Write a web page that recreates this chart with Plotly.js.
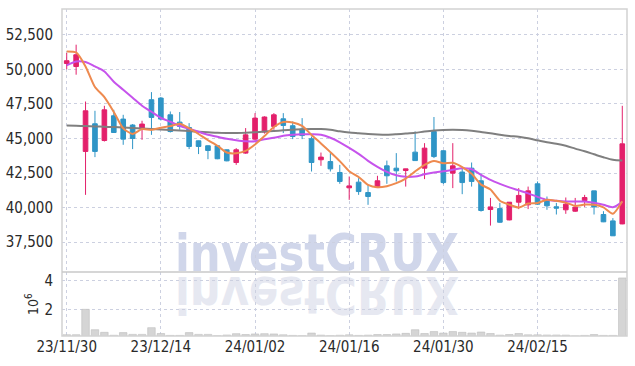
<!DOCTYPE html>
<html>
<head>
<meta charset="utf-8">
<script src="https://cdn.plot.ly/plotly-3.0.1.min.js"></script>
<style>
html,body{margin:0;padding:0;background:#fff;}
#wrap{position:relative;width:635px;height:366px;}
#wm{position:absolute;left:0;top:0;z-index:0;}
#chart{position:absolute;left:0;top:0;width:635px;height:366px;z-index:1;}
</style>
</head>
<body>
<div id="wrap">
<svg id="wm" width="635" height="366">
  <text x="175" y="271" font-family="DejaVu Sans Condensed, DejaVu Sans, sans-serif" font-weight="bold" font-size="52" fill="#d0d6ea" textLength="284" lengthAdjust="spacingAndGlyphs">investCRUX</text>
  <text x="175" y="271" transform="translate(0,548) scale(1,-1)" font-family="DejaVu Sans Condensed, DejaVu Sans, sans-serif" font-weight="bold" font-size="52" fill="#e6e8f1" textLength="284" lengthAdjust="spacingAndGlyphs">investCRUX</text>
</svg>
<div id="chart"></div>
</div>
<script>
const dates = [
 '2023-11-30','2023-12-01','2023-12-04','2023-12-05','2023-12-06','2023-12-07','2023-12-08','2023-12-11','2023-12-12','2023-12-13',
 '2023-12-14','2023-12-15','2023-12-18','2023-12-19','2023-12-20','2023-12-21','2023-12-22','2023-12-26','2023-12-27','2023-12-28',
 '2024-01-02','2024-01-03','2024-01-04','2024-01-05','2024-01-08','2024-01-09','2024-01-10','2024-01-11','2024-01-12','2024-01-15',
 '2024-01-16','2024-01-17','2024-01-18','2024-01-19','2024-01-22','2024-01-23','2024-01-24','2024-01-25','2024-01-26','2024-01-29',
 '2024-01-30','2024-01-31','2024-02-01','2024-02-02','2024-02-05','2024-02-06','2024-02-07','2024-02-08','2024-02-13','2024-02-14',
 '2024-02-15','2024-02-16','2024-02-19','2024-02-20','2024-02-21','2024-02-22','2024-02-23','2024-02-26','2024-02-27','2024-02-28'
];
const tickDates = ['2023-11-30','2023-12-14','2024-01-02','2024-01-16','2024-01-30','2024-02-15'];
const tickLabels = ['23/11/30','23/12/14','24/01/02','24/01/16','24/01/30','24/02/15'];

const opens = [50420,50200,44060,46060,44850,46640,46400,45970,45720,47800,
 47920,46710,46180,45790,44830,44470,44470,44180,43260,43940,
 44950,45460,45870,46420,45920,45680,44980,43460,43330,42540,
 41430,41840,41090,41450,43020,42850,42680,44010,42850,45500,
 44110,42490,42570,42850,41940,39860,39930,39110,40390,40200,
 41720,40560,40060,39840,39740,40510,41210,39500,39040,38820];
const highs = [51180,51780,47670,47000,47360,47070,46710,46040,46280,48350,
 48000,46950,46910,46110,44850,44500,44480,44200,44300,45750,
 46830,46600,46830,46830,46230,46470,45140,43980,43940,43090,
 42250,42130,41650,42300,43400,43940,42810,45500,44660,46550,
 44150,44660,42850,43260,42490,40700,40340,40400,41410,41520,
 41890,40800,40340,40730,40700,40920,41210,39740,39240,47360];
const lows = [50000,49610,40920,43650,44780,45400,44540,44230,44900,45260,
 46300,45430,45630,44230,43870,43500,43500,43350,43090,43890,
 44850,45350,45630,45390,44950,44950,42610,43020,42610,41720,
 40560,40920,40200,41430,41720,41890,41520,43400,42060,43580,
 41700,41410,40970,41520,39710,38700,38900,39080,39890,39890,
 40200,39840,39500,39550,39690,40050,39500,38950,37950,38800];
const closes = [50620,51050,47000,44060,47070,45430,44950,45000,46040,46520,
 46400,45500,45870,44420,44420,44130,43530,43380,44180,45260,
 46470,46550,46710,45940,45140,45210,43260,43650,42800,41890,
 41570,41160,40800,41940,42300,42660,42800,43400,44300,43690,
 41810,43020,41810,41890,39790,40050,38940,40390,40880,41210,
 40250,40130,39960,40250,40030,40730,40050,38970,37960,44610];
const ma5 = [51290,51220,50210,48720,47990,46920,45730,45330,45680,45620,
 45780,45890,46070,45740,45320,44870,44470,43980,43930,44100,
 44560,45170,45830,46190,46160,45910,45250,44640,44010,43360,
 42630,42210,41640,41470,41550,41770,42100,42620,43090,43370,
 43200,43240,42930,42440,41660,41310,40500,40210,40010,40290,
 40330,40570,40490,40360,40120,40220,40200,40010,39550,40460];
const ma20 = [50279,50568,50525,50206,49844,49099,48520,47941,47362,46928,
 46494,46205,45915,45698,45481,45264,45119,44975,44866,44794,
 44794,44938,45047,45192,45264,45300,45300,45264,45047,44721,
 44323,43889,43383,42949,42587,42334,42225,42247,42406,42536,
 42623,42731,42840,42768,42370,42008,41718,41465,41248,41031,
 40778,40560,40488,40438,40438,40438,40344,40199,40033,40416];
const ma60 = [45937,45915,45894,45872,45843,45821,45785,45749,45713,45677,
 45640,45604,45568,45532,45481,45445,45409,45394,45394,45409,
 45445,45496,45539,45590,45626,45662,45677,45677,45626,45517,
 45430,45373,45315,45279,45264,45300,45351,45409,45496,45568,
 45611,45626,45611,45554,45459,45373,45264,45177,45119,45011,
 44866,44721,44613,44468,44265,44070,43853,43636,43455,43404];
const volumes = [0.29,0.29,2.02,0.63,0.45,0.25,0.43,0.31,0.31,0.77,
 0.37,0.24,0.24,0.43,0.31,0.31,0.22,0.27,0.36,0.30,
 0.34,0.36,0.34,0.28,0.24,0.22,0.40,0.26,0.22,0.25,
 0.28,0.24,0.26,0.30,0.30,0.34,0.38,0.63,0.37,0.50,
 0.40,0.50,0.45,0.40,0.47,0.37,0.26,0.30,0.37,0.28,
 0.28,0.27,0.27,0.26,0.20,0.24,0.30,0.24,0.24,4.16];
const priceTicks = [37500,40000,42500,45000,47500,50000,52500];
const volTicks = [2,4];

const UP = '#e3206b', DOWN = '#2f95c6';
const FONT = 'Liberation Sans Narrow, DejaVu Sans Condensed, Arial Narrow, sans-serif';
const GRID = '#ccd0e0';

const traces = [
 {type:'bar', x:dates, y:volumes, xaxis:'x2', yaxis:'y2', marker:{color:'#d5d5d5', line:{color:'#bdbdbd', width:0.6}}, hoverinfo:'skip'},
 {type:'scatter', mode:'lines', x:dates, y:ma60, line:{color:'#7f7f7f', width:2, shape:'spline', smoothing:0.8}, xaxis:'x', yaxis:'y'},
 {type:'scatter', mode:'lines', x:dates, y:ma20, line:{color:'#c653ec', width:2, shape:'spline', smoothing:0.8}, xaxis:'x', yaxis:'y'},
 {type:'scatter', mode:'lines', x:dates, y:ma5, line:{color:'#ee8a4f', width:2, shape:'spline', smoothing:0.6}, xaxis:'x', yaxis:'y'},
 {type:'candlestick', x:dates, open:opens, high:highs, low:lows, close:closes, xaxis:'x', yaxis:'y',
  increasing:{line:{color:UP, width:1}, fillcolor:UP},
  decreasing:{line:{color:DOWN, width:1}, fillcolor:DOWN}}
];

const axBase = {type:'category', range:[-0.5,59.5], tickvals:tickDates, showgrid:true, gridcolor:GRID, griddash:'dot', gridwidth:1, zeroline:false, showline:false, fixedrange:true};

const layout = {
 width:635, height:366,
 margin:{l:62, r:8, t:9, b:30},
 paper_bgcolor:'rgba(0,0,0,0)', plot_bgcolor:'rgba(0,0,0,0)',
 showlegend:false,
 font:{family:FONT, size:15, color:'#2a2a2a'},
 xaxis:Object.assign({}, axBase, {anchor:'y', showticklabels:false, rangeslider:{visible:false}}),
 xaxis2:Object.assign({}, axBase, {anchor:'y2', matches:'x', ticktext:tickLabels, showticklabels:true, ticks:'', tickfont:{family:FONT, size:15, color:'#2a2a2a'}}),
 yaxis:{domain:[0.196,1], range:[35350,54360], tickvals:priceTicks, tickformat:',', showgrid:true, gridcolor:GRID, griddash:'dot', zeroline:false, ticks:'outside', ticklen:5, tickcolor:'rgba(0,0,0,0)', tickfont:{family:FONT, size:15, color:'#2a2a2a'}},
 yaxis2:{domain:[0,0.195], range:[0.2,4.55], tickvals:volTicks, showgrid:true, gridcolor:GRID, griddash:'dot', zeroline:false, ticks:'outside', ticklen:5, tickcolor:'rgba(0,0,0,0)', tickfont:{family:FONT, size:15, color:'#2a2a2a'},
   title:{text:'10<sup>6</sup>', font:{family:FONT, size:14, color:'#2a2a2a'}, standoff:2}},
 shapes:[
  {type:'rect', xref:'paper', yref:'paper', x0:0, x1:1, y0:0, y1:1, line:{color:'#d2d2d2', width:1.5}},
  {type:'line', xref:'paper', yref:'paper', x0:0, x1:1, y0:0.1955, y1:0.1955, line:{color:'#c8c8c8', width:1.5}}
 ]
};
Plotly.newPlot('chart', traces, layout, {displayModeBar:false, staticPlot:true});
</script>
</body>
</html>
